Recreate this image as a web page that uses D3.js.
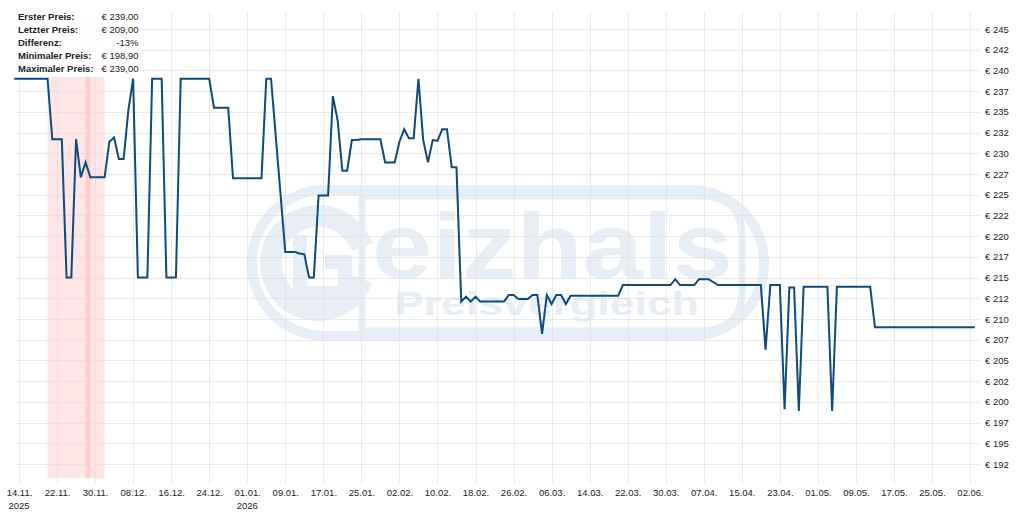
<!DOCTYPE html>
<html><head><meta charset="utf-8">
<script src="https://cdn.jsdelivr.net/npm/d3@7"></script>
<style>
html,body{margin:0;padding:0;background:#fff;}
svg{display:block;font-family:"Liberation Sans",Arial,sans-serif;}
</style>
</head><body><svg id="c" width="1020" height="524"></svg>
<script>
// ---- data ----
const dates = ["13.11.2025","20.11.2025","21.11.2025","23.11.2025","24.11.2025","25.11.2025","26.11.2025","27.11.2025","28.11.2025","29.11.2025",
"02.12.2025","03.12.2025","04.12.2025","05.12.2025","06.12.2025","07.12.2025","08.12.2025","09.12.2025","11.12.2025","12.12.2025",
"14.12.2025","15.12.2025","17.12.2025","18.12.2025","24.12.2025","25.12.2025","28.12.2025","29.12.2025","04.01.2026","05.01.2026",
"06.01.2026","09.01.2026","11.01.2026","12.01.2026","13.01.2026","14.01.2026","15.01.2026","16.01.2026","18.01.2026","19.01.2026",
"20.01.2026","21.01.2026","22.01.2026","23.01.2026","24.01.2026","25.01.2026","29.01.2026","30.01.2026","01.02.2026","02.02.2026",
"03.02.2026","04.02.2026","05.02.2026","06.02.2026","07.02.2026","08.02.2026","09.02.2026","10.02.2026","11.02.2026","12.02.2026",
"13.02.2026","14.02.2026","15.02.2026","16.02.2026","17.02.2026","18.02.2026","19.02.2026","24.02.2026","25.02.2026","26.02.2026",
"27.02.2026","01.03.2026","02.03.2026","03.03.2026","04.03.2026","05.03.2026","06.03.2026","07.03.2026","08.03.2026","09.03.2026",
"10.03.2026","20.03.2026","21.03.2026","31.03.2026","01.04.2026","02.04.2026","05.04.2026","06.04.2026","08.04.2026","10.04.2026",
"19.04.2026","20.04.2026","21.04.2026","23.04.2026","24.04.2026","25.04.2026","26.04.2026","27.04.2026","28.04.2026","03.05.2026",
"04.05.2026","05.05.2026","12.05.2026","13.05.2026","03.06.2026"];
const prices = [239,239,231.7,231.7,215,215,231.7,227.1,228.9,227.1,
227.1,231.4,231.9,229.3,229.3,235.2,239,215,215,239,
239,215,215,239,239,235.5,235.5,227,227,239,
239,218.1,218.1,217.9,217.8,215,215,224.9,224.9,236.9,
234,227.9,227.9,231.6,231.6,231.7,231.7,228.9,228.9,231.4,
232.9,231.8,231.8,239,231.6,228.9,231.6,231.5,232.9,232.9,
228.3,228.3,212.1,212.7,212.1,212.7,212.1,212.1,212.9,212.9,
212.4,212.4,212.9,212.9,208.2,212.9,211.8,212.9,212.9,211.8,
212.8,212.8,214.1,214.1,214.8,214.1,214.1,214.8,214.8,214.1,
214.1,206.3,214.1,214.1,199.1,213.8,213.8,198.9,213.9,213.9,
198.9,213.9,213.9,209,209];
const xTickDates = ["14.11.2025","22.11.2025","30.11.2025","08.12.2025","16.12.2025","24.12.2025","01.01.2026","09.01.2026",
"17.01.2026","25.01.2026","02.02.2026","10.02.2026","18.02.2026","26.02.2026","06.03.2026","14.03.2026","22.03.2026",
"30.03.2026","07.04.2026","15.04.2026","23.04.2026","01.05.2026","09.05.2026","17.05.2026","25.05.2026","02.06.2026"];
const yearTickDates = ["14.11.2025","01.01.2026"];
const yearLabels = ["2025","2026"];
const yTicks = [192.5,195,197.5,200,202.5,205,207.5,210,212.5,215,217.5,220,222.5,225,227.5,230,232.5,235,237.5,240,242.5,245];
const bandStarts = ["20.11.2025","28.11.2025"];
const bandEnds = ["29.11.2025","02.12.2025"];
const legendLabels = ["Erster Preis:","Letzter Preis:","Differenz:","Minimaler Preis:","Maximaler Preis:"];
const legendValues = ["€ 239,00","€ 209,00","-13%","€ 198,90","€ 239,00"];

// ---- setup ----
const parse = d3.utcParse("%d.%m.%Y");
const svg = d3.select("#c");
const W = 1020, H = 524;
const plotTop = 12, plotBottom = 478, plotLeft = 15, plotRight = 980;
const x = d3.scaleUtc().domain([parse("13.11.2025"), parse("03.06.2026")]).range([14.25, 974.8]);
const y = d3.scaleLinear().domain([192.5, 245]).range([464, 29]);

svg.append("rect").attr("width", W).attr("height", H).attr("fill", "#fff");

// ---- watermark ----
const wmColor = "#e7eef6";
const wm = svg.append("g").attr("fill", "none").attr("stroke", wmColor);
wm.append("rect").attr("x", 252).attr("y", 190).attr("width", 512).attr("height", 146).attr("rx", 73).attr("stroke-width", 10);
wm.append("path").attr("d", d3.arc()({innerRadius: 36, outerRadius: 58, startAngle: 0.35, endAngle: Math.PI * 2 - 0.35}))
  .attr("transform", "translate(318,263) rotate(90)").attr("fill", wmColor).attr("stroke", "none");
wm.append("path").attr("d", "M300,235 L300,293 L345,293 L345,262 L325,262").attr("stroke-width", 14);
wm.append("path").attr("d", "M362,193 L362,331 L700,331 Q742,331 742,290 L742,236 Q742,196 700,196 L362,196").attr("stroke-width", 7);
svg.append("text").attr("x", 372).attr("y", 278).attr("font-size", 92).attr("font-weight", "bold")
  .attr("fill", wmColor).attr("textLength", 361).attr("lengthAdjust", "spacingAndGlyphs").text("eizhals");
svg.append("text").attr("x", 394).attr("y", 315).attr("font-size", 33).attr("font-weight", "bold")
  .attr("fill", wmColor).attr("textLength", 305).attr("lengthAdjust", "spacingAndGlyphs").text("Preisvergleich");

// ---- bands ----
svg.append("g").selectAll("rect").data(bandStarts).join("rect")
  .attr("x", (d) => x(parse(d)))
  .attr("width", (d, i) => x(parse(bandEnds[i])) - x(parse(d)))
  .attr("y", plotTop).attr("height", plotBottom - plotTop)
  .attr("fill", "rgb(255,0,0)").attr("fill-opacity", 0.1);

// ---- grid ----
const grid = svg.append("g").attr("stroke", "#dcdcdc").attr("stroke-opacity", 0.6).attr("stroke-width", 1);
grid.selectAll("line.h").data(yTicks).join("line").attr("class", "h")
  .attr("x1", plotLeft).attr("x2", plotRight)
  .attr("y1", (d) => Math.round(y(d)) + 0.5).attr("y2", (d) => Math.round(y(d)) + 0.5);
grid.selectAll("line.v").data(xTickDates).join("line").attr("class", "v")
  .attr("x1", (d) => Math.round(x(parse(d))) + 0.5).attr("x2", (d) => Math.round(x(parse(d))) + 0.5)
  .attr("y1", plotTop).attr("y2", 483);

// ---- axes ----
const xAxis = svg.append("g").attr("transform", `translate(0,${plotBottom})`)
  .call(d3.axisBottom(x).tickValues(xTickDates.map(parse)).tickFormat(d3.utcFormat("%d.%m.")).tickSize(0).tickPadding(0));
xAxis.select(".domain").remove();
xAxis.selectAll("text").attr("y", 18).attr("dy", 0).attr("font-size", 9.5).attr("fill", "#222")
  .attr("font-family", "'Liberation Sans',Arial,sans-serif");
svg.append("g").selectAll("text").data(yearTickDates).join("text")
  .attr("x", (d) => x(parse(d))).attr("y", plotBottom + 31).attr("text-anchor", "middle")
  .attr("font-size", 9.5).attr("fill", "#222").text((d, i) => yearLabels[i]);

const yAxis = svg.append("g").attr("transform", `translate(975,0)`)
  .call(d3.axisRight(y).tickValues(yTicks).tickFormat((d) => "€ " + Math.floor(d)).tickSize(0).tickPadding(10));
yAxis.select(".domain").remove();
yAxis.selectAll("text").attr("font-size", 9.5).attr("fill", "#222")
  .attr("font-family", "'Liberation Sans',Arial,sans-serif");

// ---- line ----
const pts = dates.map((d, i) => ({ d: parse(d), v: prices[i] }));
svg.append("path").datum(pts)
  .attr("d", d3.line().x((p) => x(p.d)).y((p) => y(p.v)))
  .attr("fill", "none").attr("stroke", "#0d4a7d").attr("stroke-width", 2).attr("stroke-linejoin", "miter");

// ---- legend ----
const lg = svg.append("g");
lg.append("rect").attr("x", 14).attr("y", 7).attr("width", 128).attr("height", 70).attr("rx", 2)
  .attr("fill", "#fff").attr("fill-opacity", 0.92);
lg.selectAll("text.l").data(legendLabels).join("text").attr("class", "l")
  .attr("x", 18).attr("y", (d, i) => 20 + i * 13.1).attr("font-size", 9.5).attr("font-weight", "bold")
  .attr("fill", "#222").text((d) => d);
lg.selectAll("text.v").data(legendValues).join("text").attr("class", "v")
  .attr("x", 138.5).attr("y", (d, i) => 20 + i * 13.1).attr("font-size", 9.5).attr("text-anchor", "end")
  .attr("fill", "#222").text((d) => d);
</script>
</body></html>
